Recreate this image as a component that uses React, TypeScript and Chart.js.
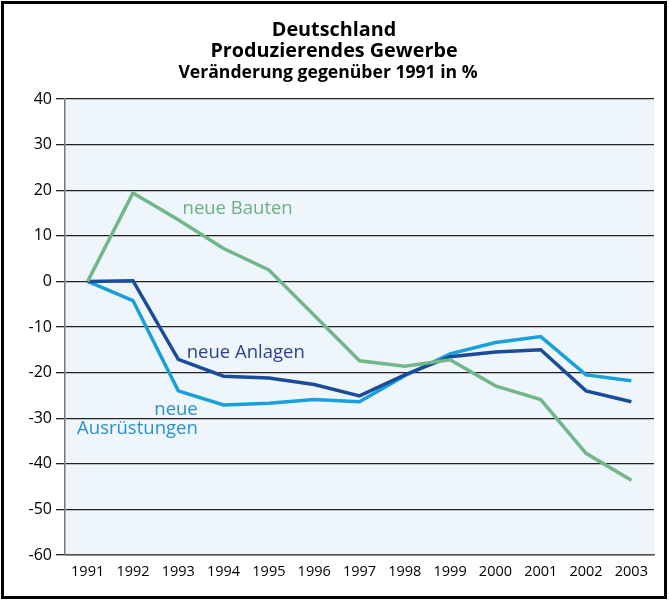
import React, { useEffect, useRef } from "react";
import { Chart, registerables } from "chart.js";

Chart.register(...registerables);

const years = ["1991", "1992", "1993", "1994", "1995", "1996", "1997", "1998", "1999", "2000", "2001", "2002", "2003"];
const neueBauten = [0, 19.4, 13.5, 7.2, 2.5, -7.4, -17.4, -18.6, -17.2, -22.9, -25.9, -37.7, -43.6];
const neueAnlagen = [0, 0.15, -17.1, -20.8, -21.2, -22.6, -25.1, -20.5, -16.5, -15.5, -15.0, -24.0, -26.4];
const neueAusruestungen = [0, -4.2, -24.0, -27.1, -26.7, -25.9, -26.4, -20.7, -15.9, -13.4, -12.1, -20.5, -21.8];
const yTicks = [40, 30, 20, 10, 0, -10, -20, -30, -40, -50, -60];
const titleLines = ["Deutschland", "Produzierendes Gewerbe", "Veränderung gegenüber 1991 in %"];

const GREEN = "#72b68a";
const DARK = "#1a4c9a";
const LIGHT = "#19a0da";
const FONT = "'Open Sans', 'Noto Sans', sans-serif";

// series labels: [text lines, x index, y value, align, color]
const seriesLabels: [string[], number, number, CanvasTextAlign, string][] = [
  [["neue Bauten"], 3.31, 15.9, "center", "#6caf84"],
  [["neue Anlagen"], 3.49, -15.6, "center", "#2b418c"],
  [["neue", "Ausrüstungen"], 2.43, -28.1, "right", "#2b90c9"],
];

const decorPlugin = {
  id: "decor",
  beforeDraw(chart: any) {
    const { ctx, chartArea } = chart;
    ctx.save();
    ctx.fillStyle = "#ffffff";
    ctx.fillRect(0, 0, chart.width, chart.height);
    ctx.fillStyle = "#eef6fb";
    ctx.fillRect(chartArea.left, chartArea.top, chartArea.right - chartArea.left, chartArea.bottom - chartArea.top);
    ctx.restore();
  },
  afterDraw(chart: any) {
    const { ctx } = chart;
    const xs = chart.scales.x;
    const ys = chart.scales.y;
    ctx.save();
    ctx.strokeStyle = "#000";
    ctx.lineWidth = 3;
    ctx.strokeRect(2.5, 2.5, chart.width - 6, chart.height - 5);
    ctx.fillStyle = "#000";
    ctx.textAlign = "center";
    ctx.textBaseline = "middle";
    ctx.font = `bold 19.8px ${FONT}`;
    ctx.fillText(titleLines[0], 334, 30);
    ctx.fillText(titleLines[1], 334, 51);
    ctx.font = `bold 17.6px ${FONT}`;
    ctx.fillText(titleLines[2], 328, 73);
    ctx.font = `18.5px ${FONT}`;
    for (const [lines, xi, yv, align, color] of seriesLabels) {
      ctx.fillStyle = color;
      ctx.textAlign = align;
      const px = xs.getPixelForValue(xi);
      const py = ys.getPixelForValue(yv);
      lines.forEach((t, i) => ctx.fillText(t, px, py + i * 19));
    }
    ctx.restore();
  },
};

export default function App() {
  const ref = useRef<HTMLCanvasElement>(null);
  useEffect(() => {
    const chart = new Chart(ref.current!, {
      type: "line",
      data: {
        labels: years,
        datasets: [
          { label: "neue Bauten", data: neueBauten, borderColor: GREEN, borderWidth: 3.5, pointRadius: 0, tension: 0 },
          { label: "neue Anlagen", data: neueAnlagen, borderColor: DARK, borderWidth: 3.5, pointRadius: 0, tension: 0 },
          { label: "neue Ausrüstungen", data: neueAusruestungen, borderColor: LIGHT, borderWidth: 3.5, pointRadius: 0, tension: 0 },
        ],
      },
      options: {
        animation: false,
        responsive: false,
        layout: { padding: { top: 99, right: 15, left: 0, bottom: 0 } },
        plugins: { legend: { display: false }, title: { display: false }, tooltip: { enabled: false } },
        scales: {
          x: {
            offset: true,
            grid: { color: "transparent", tickLength: 6 },
            border: { display: true, color: "#555", width: 1.5 },
            ticks: { color: "#000", font: { family: FONT, size: 14.5 }, padding: 2, maxRotation: 0, autoSkip: false },
            afterFit: (s: any) => { s.height = 45; },
          },
          y: {
            min: -60,
            max: 40,
            afterBuildTicks: (s: any) => { s.ticks = yTicks.map((v) => ({ value: v })); },
            grid: { color: "#222", lineWidth: 1.3, tickLength: 9 },
            border: { display: true, color: "#777", width: 1.5 },
            ticks: { color: "#000", font: { family: FONT, size: 16 }, padding: 4 },
            afterFit: (s: any) => { s.width = 65; },
          },
        },
      },
      plugins: [decorPlugin],
    });
    return () => chart.destroy();
  }, []);
  return (
    <div style={{ position: "absolute", left: 0, top: 0, width: 669, height: 600 }}>
      <canvas ref={ref} width={669} height={600} style={{ display: "block" }} />
    </div>
  );
}
